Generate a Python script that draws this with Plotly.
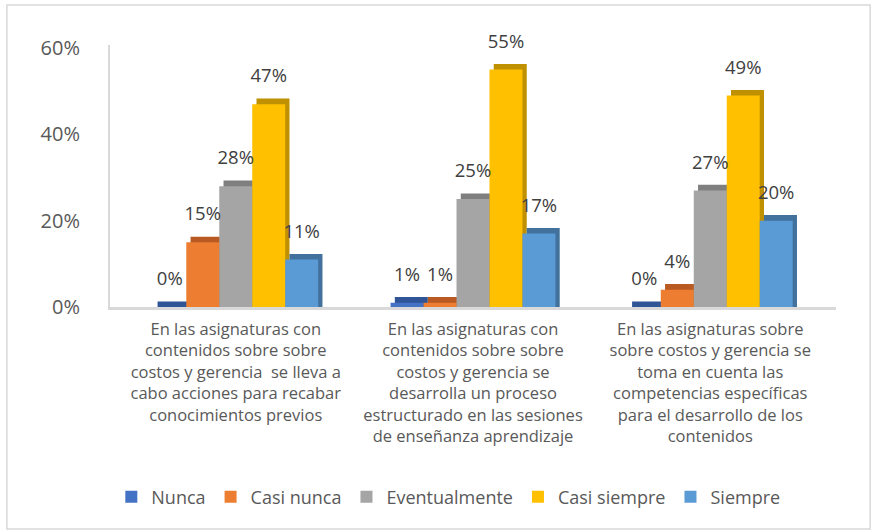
import plotly.graph_objects as go

categories = [
    "En las asignaturas con<br>contenidos sobre sobre<br>costos y gerencia  se lleva a<br>cabo acciones para recabar<br>conocimientos previos",
    "En las asignaturas con<br>contenidos sobre sobre<br>costos y gerencia se<br>desarrolla un proceso<br>estructurado en las sesiones<br>de enseñanza aprendizaje",
    "En las asignaturas sobre<br>sobre costos y gerencia se<br>toma en cuenta las<br>competencias específicas<br>para el desarrollo de los<br>contenidos",
]
series_names = ["Nunca", "Casi nunca", "Eventualmente", "Casi siempre", "Siempre"]
nunca = [0, 1, 0]
casi_nunca = [15, 1, 4]
eventualmente = [28, 25, 27]
casi_siempre = [47, 55, 49]
siempre = [11, 17, 20]
y_ticks = [0, 20, 40, 60]

values = [nunca, casi_nunca, eventualmente, casi_siempre, siempre]
front_colors = ["#4472C4", "#ED7D31", "#A5A5A5", "#FFC000", "#5B9BD5"]
side_colors = ["#2F5597", "#B85A22", "#7F7F7F", "#BF9000", "#41719C"]

W = 0.139      # bar width in category units
DX = 0.018     # fake depth, horizontal
DY = 1.3       # fake depth, vertical
x_idx = list(range(len(categories)))

fig = go.Figure()

# depth faces first (behind)
for i, vals in enumerate(values):
    off = (i - 2.5) * W
    fig.add_trace(go.Bar(
        x=x_idx, y=[v + DY for v in vals], offset=off + DX, width=W,
        marker=dict(color=side_colors[i], line_width=0),
        showlegend=False, hoverinfo="skip"))

# front faces
for i, vals in enumerate(values):
    off = (i - 2.5) * W
    fig.add_trace(go.Bar(
        x=x_idx, y=vals, offset=off, width=W, name=series_names[i],
        marker=dict(color=front_colors[i], line_width=0)))

# data labels
for i, vals in enumerate(values):
    off = (i - 2) * W
    fig.add_trace(go.Scatter(
        x=[k + off for k in x_idx], y=[v + 4.0 for v in vals],
        mode="text", text=[f"{v}%" for v in vals], textposition="top center",
        textfont=dict(family="Open Sans", size=18.5, color="#404040"),
        cliponaxis=False, showlegend=False, hoverinfo="skip"))

fig.update_layout(
    width=873, height=532,
    margin=dict(l=110, r=37, t=45, b=225),
    barmode="overlay",
    plot_bgcolor="white", paper_bgcolor="white",
    font=dict(family="Open Sans", color="#595959"),
    legend=dict(orientation="h", x=0.466, xanchor="center", y=-0.725, yanchor="middle",
                font=dict(size=18, color="#595959"), traceorder="normal"),
    xaxis=dict(range=[-0.53, 2.53], tickvals=x_idx, ticktext=categories,
               showline=True, linecolor="#D9D9D9", linewidth=3, showgrid=False,
               zeroline=False, ticks="", tickfont=dict(size=16.5, color="#595959"),
               ticklabelstandoff=5, automargin=False),
    yaxis=dict(range=[0, 60.7], tickvals=y_ticks, ticktext=[f"{t}%" for t in y_ticks],
               showline=True, linecolor="#D9D9D9", linewidth=2, showgrid=False,
               zeroline=False, ticks="", tickfont=dict(size=20, color="#595959"),
               ticklabelstandoff=24, automargin=False),
    shapes=[dict(type="rect", xref="paper", yref="paper",
                 x0=-0.142, x1=1.047, y0=-0.847, y1=1.153,
                 line=dict(color="#D9D9D9", width=1.5), fillcolor="rgba(0,0,0,0)")],
)

fig.write_html("out.html", config={"displayModeBar": False},
               post_script="document.body.style.margin='0';")
